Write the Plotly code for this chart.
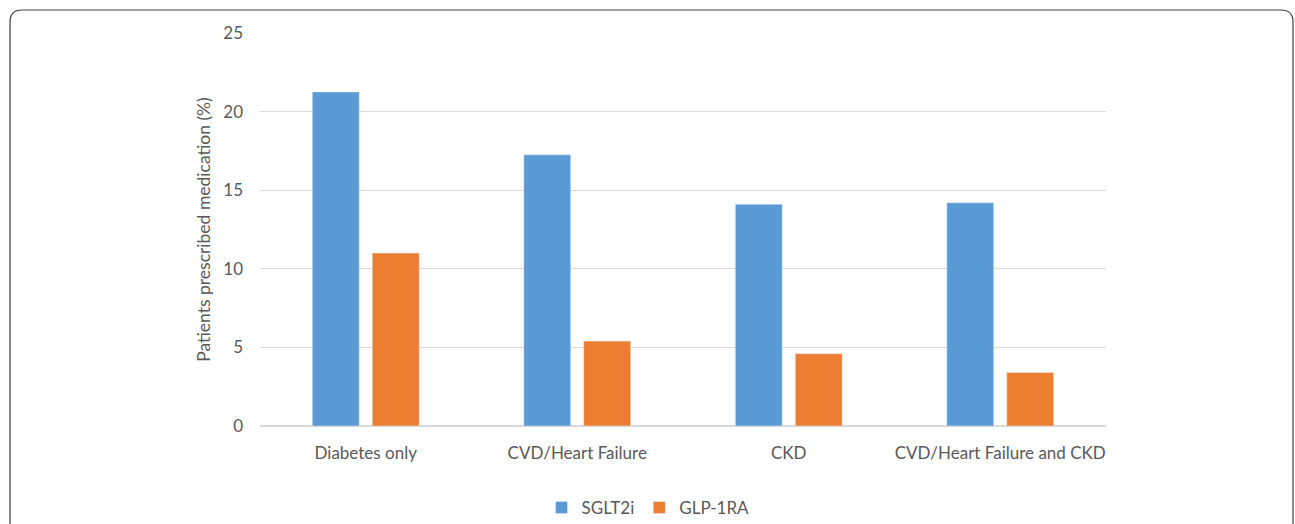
import plotly.graph_objects as go

categories = ["Diabetes only", "CVD/Heart Failure", "CKD", "CVD/Heart Failure and CKD"]
sglt2i = [21.25, 17.25, 14.1, 14.2]
glp1ra = [11.0, 5.4, 4.6, 3.4]
y_ticks = [0, 5, 10, 15, 20, 25]

W, H = 1295, 524
L, R, T, B = 260, 189, 33, 98
pw, ph = W - L - R, H - T - B

def px(x):
    return (x - L) / pw

def py(y):
    return (H - B - y) / ph

fig = go.Figure()
fig.add_trace(go.Bar(name="SGLT2i", x=categories, y=sglt2i, marker_color="#5B9BD5"))
fig.add_trace(go.Bar(name="GLP-1RA", x=categories, y=glp1ra, marker_color="#ED7D31"))

font_fam = "Lato, Open Sans, sans-serif"
col = "#595959"

# rounded border (top corners), extending past the bottom
x0, x1 = px(10), px(1293)
y0, y1 = py(10), py(560)
rx, ry = 12 / pw, 12 / ph
path = (f"M {x0},{y1} L {x0},{y0 - ry} Q {x0},{y0} {x0 + rx},{y0} "
        f"L {x1 - rx},{y0} Q {x1},{y0} {x1},{y0 - ry} L {x1},{y1}")
fig.add_shape(type="path", path=path, xref="paper", yref="paper",
              line=dict(color="#404040", width=1.2))

fig.update_layout(
    width=W, height=H,
    margin=dict(l=L, r=R, t=T, b=B, autoexpand=False),
    plot_bgcolor="white", paper_bgcolor="white",
    barmode="group", bargap=0.433, bargroupgap=0.217,
    font=dict(family=font_fam, size=17, color=col),
    showlegend=True,
    legend=dict(orientation="h", x=px(648), xanchor="center", y=py(508), yanchor="middle",
                font=dict(size=17, color=col), itemwidth=30, traceorder="normal"),
    xaxis=dict(showgrid=False, showline=True, linecolor="#D9D9D9", linewidth=1,
               ticks="", ticklabelstandoff=12, tickfont=dict(size=17, color=col)),
    yaxis=dict(range=[0, 25], tickvals=y_ticks, showgrid=True, gridcolor="#D9D9D9",
               gridwidth=1, zeroline=True, zerolinecolor="#D9D9D9", showline=False,
               ticks="", ticklabelstandoff=16, tickfont=dict(size=17, color=col),
               title=dict(text="Patients prescribed medication (%)", standoff=8,
                          font=dict(size=17.5, color=col))),
)

fig.write_html("out.html")
